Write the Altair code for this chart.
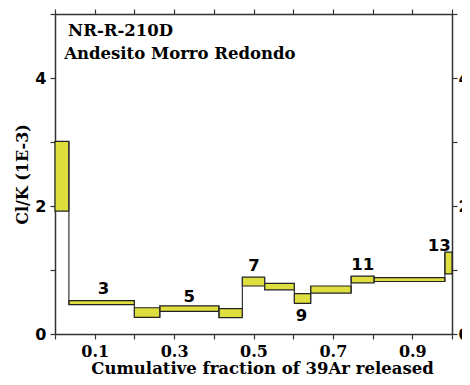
import altair as alt
import pandas as pd

# Step boundaries (cumulative fraction of 39Ar released)
x_start = [0.000, 0.035, 0.200, 0.264, 0.413, 0.472, 0.528, 0.603, 0.644, 0.746, 0.804, 0.982]
x_end   = [0.035, 0.200, 0.264, 0.413, 0.472, 0.528, 0.603, 0.644, 0.746, 0.804, 0.982, 1.000]
# Cl/K (1E-3) error box limits
y_low  = [1.92, 0.46, 0.26, 0.355, 0.255, 0.75, 0.69, 0.48, 0.64, 0.80, 0.82, 0.94]
y_high = [3.01, 0.52, 0.41, 0.44, 0.395, 0.89, 0.79, 0.63, 0.75, 0.905, 0.88, 1.28]

# Step number labels
label_text = ["3", "5", "7", "9", "11", "13"]
label_x = [0.122, 0.338, 0.501, 0.621, 0.775, 0.968]
label_y = [0.71, 0.585, 1.06, 0.28, 1.08, 1.375]

# Sample annotation
note_text = ["NR-R-210D", "Andesito Morro Redondo"]
note_x = [0.033, 0.023]
note_y = [4.66, 4.30]

x_ticks = [round(i * 0.1, 1) for i in range(11)]
y_ticks = [0, 1, 2, 3, 4, 5]

boxes = pd.DataFrame({"x0": x_start, "x1": x_end, "ylo": y_low, "yhi": y_high})
conn = pd.DataFrame({
    "x": x_end[:-1],
    "y0": [min(y_low[i], y_low[i + 1]) for i in range(len(x_end) - 1)],
    "y1": [max(y_high[i], y_high[i + 1]) for i in range(len(x_end) - 1)],
})
labels = pd.DataFrame({"t": label_text, "x": label_x, "y": label_y})
notes = pd.DataFrame({"t": note_text, "x": note_x, "y": note_y})

xs = alt.Scale(domain=[0, 1], nice=False, zero=False)
ys = alt.Scale(domain=[0, 5], nice=False)

AX = dict(domainColor="#333333", domainWidth=1.5, tickColor="#333333", tickWidth=1.2,
          tickSize=5, grid=False, labelColor="black")

bottom_axis = alt.Axis(orient="bottom", values=x_ticks,
                       labelExpr="round(datum.value*10) % 2 == 1 ? format(datum.value, '.1f') : ''",
                       labelFont="DejaVu Serif", labelFontSize=16, labelFontWeight="bold",
                       labelPadding=4,
                       title="Cumulative fraction of 39Ar released",
                       titleFont="DejaVu Serif", titleFontSize=16.5, titleFontWeight="bold",
                       titleColor="black", titlePadding=1, titleX=207, **AX)
top_axis = alt.Axis(orient="top", values=x_ticks, labels=False, title=None, **AX)
left_axis = alt.Axis(orient="left", values=y_ticks,
                     labelExpr="datum.value % 2 == 0 ? datum.label : ''",
                     labelFont="DejaVu Sans", labelFontSize=16, labelFontWeight="bold",
                     labelPadding=4,
                     title="Cl/K (1E-3)",
                     titleFont="DejaVu Serif", titleFontSize=16, titleFontWeight="bold",
                     titleColor="black", titlePadding=4, **AX)
right_axis = alt.Axis(orient="right", values=y_ticks,
                      labelExpr="datum.value % 2 == 0 ? datum.label : ''",
                      labelFont="DejaVu Sans", labelFontSize=16, labelFontWeight="bold",
                      labelPadding=1, title=None, **AX)

rects = alt.Chart(boxes).mark_rect(fill="#dede3e", stroke="#222222", strokeWidth=1.2).encode(
    x=alt.X("x0:Q", scale=xs, axis=bottom_axis),
    x2="x1:Q",
    y=alt.Y("ylo:Q", scale=ys, axis=left_axis),
    y2="yhi:Q",
)

rules = alt.Chart(conn).mark_rule(color="#333333", strokeWidth=1.2).encode(
    x=alt.X("x:Q", scale=xs, axis=top_axis),
    y=alt.Y("y0:Q", scale=ys, axis=right_axis),
    y2="y1:Q",
)

step_labels = alt.Chart(labels).mark_text(
    font="DejaVu Sans", fontSize=16.5, fontWeight="bold", color="black",
    align="center", baseline="middle"
).encode(
    x=alt.X("x:Q", scale=xs, axis=None),
    y=alt.Y("y:Q", scale=ys, axis=None),
    text="t:N",
)

note_marks = alt.Chart(notes).mark_text(
    font="DejaVu Serif", fontSize=16.5, fontWeight="bold", color="black",
    align="left", baseline="alphabetic"
).encode(
    x=alt.X("x:Q", scale=xs, axis=None),
    y=alt.Y("y:Q", scale=ys, axis=None),
    text="t:N",
)

chart = alt.layer(rects, rules, step_labels, note_marks).resolve_axis(
    x="independent", y="independent"
).properties(
    width=397, height=320,
    autosize=alt.AutoSizeParams(type="none"),
    padding={"left": 47, "top": 6, "right": 10, "bottom": 43},
).configure_view(stroke=None)

chart.save("out.html", embed_options={"renderer": "svg", "actions": False})
